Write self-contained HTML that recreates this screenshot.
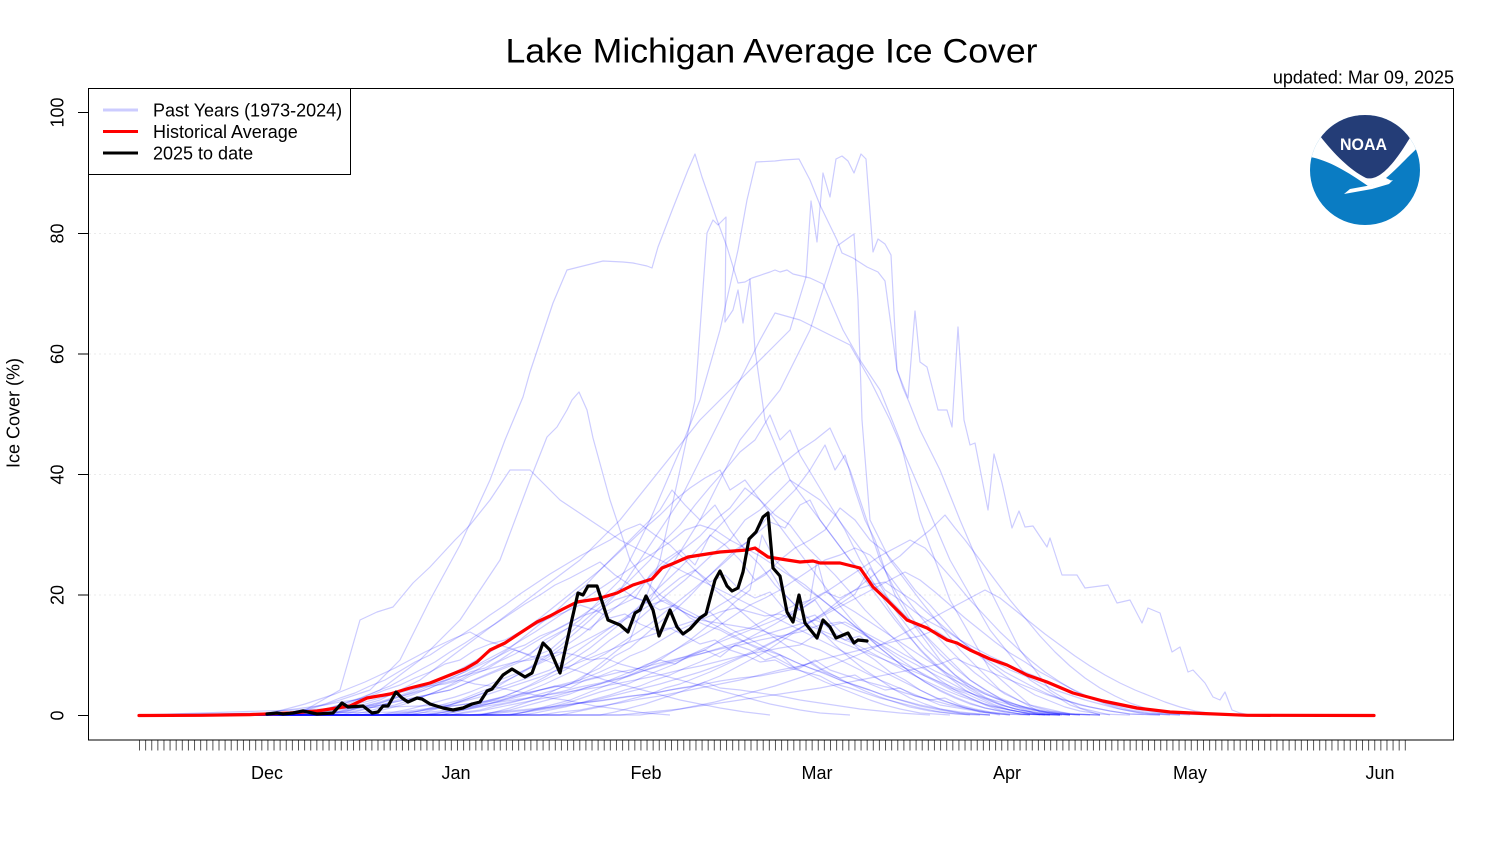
<!DOCTYPE html>
<html>
<head>
<meta charset="utf-8">
<style>
html,body{margin:0;padding:0;background:#fff;}
svg{display:block;}
text{font-family:"Liberation Sans",Arial,sans-serif;fill:#000;}
</style>
</head>
<body>
<svg width="1500" height="850" viewBox="0 0 1500 850" xmlns="http://www.w3.org/2000/svg">
<rect x="0" y="0" width="1500" height="850" fill="#fff"/>

<text x="771.5" y="62.5" font-size="34" text-anchor="middle" textLength="532" lengthAdjust="spacingAndGlyphs">Lake Michigan Average Ice Cover</text>
<text x="1454" y="83.5" font-size="18" text-anchor="end">updated: Mar 09, 2025</text>

<g stroke="#ebebeb" stroke-width="1" stroke-dasharray="2 3">
<line x1="89" y1="233.5" x2="1453" y2="233.5"/>
<line x1="89" y1="354" x2="1453" y2="354"/>
<line x1="89" y1="474.5" x2="1453" y2="474.5"/>
<line x1="89" y1="595" x2="1453" y2="595"/>
</g>

<g fill="none" stroke="rgba(0,0,255,0.2)" stroke-width="1.2" stroke-linejoin="round">
<polyline points="139,715 260,715 300,712 340,700 370,690 400,660 430,600 460,545 490,480 505,440 523,397 530,372 553,303 567,270 583,266 603,261 623,262 633,263 647,266 652,268 658,247 673,208 688,170 695,154 702,177 717,220 727,247 738,283 745,282 752,278 770,272 775,270 780,272 787,270 793,274 810,278 823,284 830,300 843,330 860,360 880,390 900,440 920,520 950,600 990,670 1030,705 1070,714 1100,715"/>
<polyline points="139,715 300,714 380,705 450,690 520,660 580,620 620,580 650,520 680,450 700,400 720,330 738,250 747,200 756,162 775,161 783,160 799,159 810,180 820,205 837,240 842,253 853,258 867,267 878,272 885,281 897,370 903,388 909,402 920,430 940,470 960,520 990,590 1020,650 1050,690 1080,708 1110,715"/>
<polyline points="139,715 330,714 380,700 420,680 460,650 500,620 540,590 580,560 620,520 660,470 700,420 740,380 770,350 790,330 799,300 806,277 811,201 817,242 823,173 830,197 836,159 842,156 848,161 854,173 861,154 866,159 873,252 878,239 885,244 891,255 897,370 908,398 915,311 920,362 927,367 938,410 947,410 952,427 958,327 964,420 970,445 975,443 988,510 994,454 1002,483 1012,528 1019,511 1025,527 1033,526 1047,547 1050,538 1062,575 1077,575 1085,588 1108,585 1117,603 1130,600 1142,623 1148,608 1160,613 1172,652 1180,647 1188,672 1193,670 1205,683 1213,697 1220,700 1225,692 1232,710 1240,713 1250,715"/>
<polyline points="139,715 350,712 450,690 550,650 620,590 680,500 720,420 760,340 775,313 800,320 830,335 850,345 870,380 890,420 920,490 950,560 990,630 1030,680 1070,705 1100,715"/>
<polyline points="139,715 400,712 500,700 580,680 630,640 660,560 680,470 695,400 700,330 707,233 713,220 718,225 726,217 725,322 733,310 738,290 743,323 750,279 755,350 765,420 790,480 820,520 850,560 890,600 930,640 970,680 1010,705 1040,715"/>
<polyline points="139,715 450,705 550,670 650,600 700,520 740,440 780,390 810,330 837,246 854,234 858,300 862,420 870,520 890,560 920,600 960,650 1000,690 1040,712 1070,715"/>
<polyline points="139,715 330,712 380,690 420,660 460,620 500,560 530,480 547,437 557,427 567,410 572,400 579,392 587,410 593,438 610,500 630,560 660,600 700,620 760,630 820,650 880,680 940,705 1000,715"/>
<polyline points="139,715 300,713 340,690 360,620 377,612 393,607 413,583 430,567 455,540 470,525 490,500 510,470 530,470 560,500 590,520 620,540 660,560 700,580 740,600 780,620 820,640 860,660 900,680 940,700 980,712 1010,715"/>
<polyline points="139,715 420,715 435,713 450,711 465,708 480,706 495,702 510,699 525,695 540,690 555,686 570,688 585,680 600,676 615,670 630,673 645,665 660,660 675,664 690,655 705,650 720,657 735,645 750,650 765,660 780,655 795,668 810,663 825,672 840,678 855,675 870,684 885,690 900,688 915,696 930,700 945,698 960,705 975,709 990,712 1010,714 1062,715"/>
<polyline points="139,715 320,715 335,712 350,710 365,706 380,703 395,698 410,694 425,690 440,684 455,680 470,672 485,668 500,660 515,650 530,655 545,640 560,632 575,625 590,630 605,612 620,605 635,598 650,602 665,590 680,578 695,570 710,582 725,575 740,590 755,598 770,592 785,610 800,620 815,615 830,630 845,640 860,636 875,650 890,658 905,665 920,672 935,680 950,688 965,693 980,700 995,706 1010,710 1030,714 1060,715"/>
<polyline points="139,715 450,715 465,712 480,710 495,706 510,703 525,699 540,694 555,690 570,684 585,678 600,672 615,665 630,656 645,650 660,641 675,632 690,625 705,615 720,605 735,596 750,584 765,575 780,560 795,548 810,540 825,530 840,508 855,520 870,540 885,552 900,570 915,590 930,605 945,622 960,640 975,652 990,665 1005,676 1020,686 1035,695 1050,701 1065,707 1080,711 1100,714 1130,715"/>
<polyline points="139,715 295,715 310,712 325,709 340,705 355,700 370,696 385,690 400,685 415,678 430,672 445,664 460,660 475,650 490,644 505,640 520,632 535,625 550,618 565,612 580,605 595,610 610,618 625,614 640,624 655,630 670,628 685,636 700,644 715,640 730,650 745,655 760,662 775,660 790,668 805,672 820,676 835,684 850,688 865,693 880,698 900,703 920,708 940,712 970,715"/>
<polyline points="139,715 430,715 445,712 460,709 475,705 490,700 505,696 520,690 535,684 550,677 565,670 580,660 595,652 610,640 625,630 640,618 655,605 670,592 685,580 700,566 715,552 730,540 745,520 760,510 775,495 790,480 805,490 820,500 835,515 850,535 865,555 880,585 895,610 910,630 925,648 940,662 955,675 970,685 985,694 1000,700 1015,706 1030,710 1050,713 1080,715"/>
<polyline points="139,715 510,715 525,712 540,709 555,706 570,702 585,697 600,692 615,688 630,683 645,676 660,670 675,664 690,656 705,650 720,640 735,632 750,628 765,620 780,612 795,605 810,600 825,592 840,598 855,590 870,585 885,582 900,592 915,602 930,615 945,628 960,640 975,652 990,662 1005,672 1020,680 1035,688 1050,695 1065,700 1080,705 1095,708 1110,711 1130,714 1160,715"/>
<polyline points="139,715 540,715 560,712 580,710 600,706 620,703 640,699 660,696 680,692 700,688 720,684 740,680 760,675 780,670 800,666 820,660 840,655 860,650 880,645 900,640 920,636 935,630 950,640 965,648 980,655 995,662 1010,670 1025,676 1040,683 1055,690 1070,695 1085,700 1100,704 1115,708 1130,711 1150,714 1180,715"/>
<polyline points="139,715 350,715 365,712 380,708 395,705 410,700 425,696 440,690 455,684 470,676 485,670 500,661 515,654 530,645 545,636 560,628 575,620 590,610 605,600 620,588 635,598 650,575 665,560 680,550 695,565 710,535 725,545 740,560 755,580 770,570 785,595 800,610 815,600 830,622 845,636 860,650 875,660 890,672 905,680 920,690 935,697 950,703 965,708 985,712 1010,715"/>
<polyline points="139,715 480,715 500,713 520,711 540,709 560,706 580,703 600,701 620,698 640,695 660,692 680,688 700,685 720,681 740,678 760,676 780,672 800,668 815,660 830,670 845,675 860,680 875,684 890,688 905,693 920,697 935,701 950,705 965,708 980,711 1000,714 1030,715"/>
<polyline points="139,715 480,715 495,712 510,710 525,706 540,702 555,698 570,694 585,688 600,684 615,678 630,672 645,666 660,658 675,650 690,642 705,634 720,625 735,615 750,605 765,598 780,590 795,580 810,570 825,560 840,555 855,548 870,555 885,570 900,590 915,610 930,628 945,645 960,660 975,673 990,684 1005,694 1020,701 1035,707 1050,711 1070,714 1100,715"/>
<polyline points="139,715 480,715 495,712 510,708 525,703 540,698 555,690 570,684 585,675 600,668 615,656 630,648 645,635 660,622 675,610 690,596 705,580 720,565 735,550 750,540 765,520 780,505 795,490 810,470 825,445 835,470 845,455 855,490 865,520 875,540 885,570 895,595 910,620 925,640 940,660 955,675 970,688 985,697 1000,704 1015,709 1035,713 1060,715"/>
<polyline points="139,715 330,715 345,712 360,708 375,705 390,700 405,695 420,690 435,684 450,678 465,672 480,665 495,658 510,650 525,645 540,636 555,630 570,622 585,615 600,610 615,600 630,595 645,602 660,610 675,605 690,618 705,625 720,630 735,638 750,644 765,650 780,655 795,662 810,668 825,673 840,680 855,685 870,690 885,696 900,700 920,706 940,710 965,714 990,715"/>
<polyline points="139,715 400,715 415,712 430,708 445,704 460,700 475,694 490,688 505,681 520,674 535,665 550,656 565,646 580,636 595,624 610,612 625,600 640,586 655,572 670,560 685,548 700,536 715,520 730,508 745,488 760,500 775,515 790,525 805,545 820,560 835,575 850,592 865,610 880,625 895,640 910,655 925,668 940,680 955,690 970,698 985,705 1000,710 1020,714 1050,715"/>
<polyline points="139,715 560,715 575,712 590,709 605,706 620,702 635,698 650,694 665,688 680,684 695,678 710,672 725,665 740,658 755,652 770,644 785,636 800,628 815,620 830,612 845,604 860,596 875,588 890,580 905,572 920,580 935,592 950,605 965,618 980,630 995,642 1010,653 1025,662 1040,672 1055,680 1070,688 1085,695 1100,701 1115,706 1130,710 1150,713 1180,715"/>
<polyline points="139,715 470,715 490,713 510,711 530,709 550,707 570,704 590,702 610,699 630,696 650,694 670,690 690,687 705,682 720,688 740,690 760,693 780,696 800,700 820,703 840,706 860,709 880,711 900,713 930,715"/>
<polyline points="139,715 280,715 295,712 310,708 325,704 340,698 355,693 370,686 385,680 400,671 415,662 430,655 445,645 460,636 475,626 490,615 505,605 520,594 535,584 550,574 565,565 580,556 595,548 610,540 625,530 640,524 655,535 670,545 685,560 700,575 715,590 730,602 745,615 760,628 775,638 790,648 805,658 820,668 835,676 850,684 865,691 880,697 895,702 910,707 930,711 955,714 980,715"/>
<polyline points="139,715 410,715 425,712 440,708 455,703 470,698 485,692 500,685 515,676 530,667 545,657 560,646 575,633 590,620 605,606 620,590 635,575 650,560 665,540 680,525 695,505 710,487 725,470 740,452 755,440 770,415 780,440 790,430 800,455 815,480 830,505 845,530 860,560 875,585 890,610 905,630 920,650 935,665 950,678 965,690 980,698 995,705 1010,710 1030,714 1060,715"/>
<polyline points="139,715 380,715 400,713 420,711 440,708 460,705 480,702 500,698 520,694 540,690 560,686 580,682 600,677 620,672 640,668 660,663 680,658 700,654 720,649 740,645 760,640 780,636 800,632 820,625 840,622 855,630 870,638 885,647 900,656 915,664 930,672 945,680 960,688 975,695 990,701 1005,706 1020,710 1040,713 1070,715"/>
<polyline points="139,715 300,715 315,712 330,708 345,703 360,698 375,692 390,686 405,678 420,670 435,662 450,652 465,643 480,633 495,624 510,614 525,604 540,595 555,585 570,578 585,570 600,562 615,575 630,585 645,580 660,595 675,605 690,612 705,620 720,628 735,636 750,645 765,652 780,660 795,668 810,675 825,682 840,688 855,694 870,700 885,705 900,709 920,713 950,715"/>
<polyline points="139,715 600,715 615,712 630,708 645,704 660,699 675,694 690,688 705,682 720,676 735,668 750,660 765,652 780,642 795,632 810,622 825,612 840,600 855,590 870,578 885,566 900,556 915,542 930,530 945,515 955,528 965,540 980,560 995,580 1010,600 1025,618 1040,636 1055,652 1070,666 1085,678 1100,688 1115,696 1130,703 1145,708 1160,712 1180,714 1210,715"/>
<polyline points="139,715 290,715 305,713 320,711 335,708 350,705 365,702 380,698 395,694 410,690 425,686 440,682 455,678 470,674 485,670 500,666 515,662 530,660 545,656 560,652 575,655 590,660 605,658 620,664 635,668 650,672 665,676 680,680 695,684 710,688 725,692 740,696 755,700 770,704 785,707 800,710 820,713 850,715"/>
<polyline points="139,715 360,715 375,712 390,708 405,704 420,698 435,692 450,685 465,677 480,668 495,658 510,648 525,636 540,624 555,612 570,598 585,586 600,570 615,555 630,540 645,525 660,510 672,490 685,505 700,520 715,505 730,530 745,550 760,565 775,585 790,600 805,615 820,630 835,645 850,658 865,670 880,680 895,690 910,698 925,704 940,709 960,713 990,715"/>
<polyline points="139,715 450,715 465,713 480,711 495,708 510,705 525,702 540,699 555,696 570,692 585,688 600,684 615,680 630,676 645,670 660,665 675,660 690,655 705,648 720,642 735,636 750,630 765,624 780,618 795,610 810,600 817,560 825,590 840,603 855,612 870,622 885,632 900,642 915,652 930,662 945,672 960,680 975,688 990,695 1005,701 1020,706 1040,711 1070,715"/>
<polyline points="139,715 510,715 525,712 540,708 555,704 570,700 585,694 600,688 615,682 630,675 645,668 660,660 675,650 690,640 705,628 720,616 735,602 750,590 762,535 775,560 790,575 805,585 820,598 835,610 850,622 865,635 880,648 895,660 910,672 925,682 940,691 955,698 970,704 985,708 1000,711 1020,714 1050,715"/>
<polyline points="139,715 420,715 440,713 460,710 480,707 500,704 520,700 540,696 560,692 580,687 600,683 620,678 640,672 660,666 680,660 700,654 720,648 740,642 760,636 780,630 800,624 815,620 830,626 845,622 860,630 875,638 890,646 905,655 920,663 935,671 950,678 965,685 980,692 995,698 1010,703 1025,707 1045,711 1075,714 1100,715"/>
<polyline points="139,715 380,715 395,712 410,709 425,705 440,701 455,697 470,692 485,686 500,680 515,674 530,668 545,661 560,654 575,646 590,638 605,630 620,622 635,614 650,605 665,600 680,610 695,618 710,612 725,626 740,634 755,642 770,650 785,657 800,664 815,670 830,676 845,682 860,687 875,692 890,697 905,701 920,705 940,709 960,712 990,715"/>
<polyline points="139,715 620,715 640,713 660,711 680,709 700,706 720,703 740,700 760,697 780,694 800,691 820,688 840,684 860,680 880,676 900,672 920,668 940,664 955,658 970,665 985,670 1000,676 1015,682 1030,688 1045,694 1060,699 1075,703 1090,707 1110,711 1130,714 1160,715"/>
<polyline points="139,715 500,715 520,713 540,710 560,707 580,703 600,699 620,694 640,689 660,684 680,678 700,672 720,665 740,657 760,648 780,638 800,628 820,616 840,604 855,594 870,568 885,590 900,600 915,612 930,622 945,630 960,640 975,648 990,656 1005,663 1020,670 1035,676 1050,683 1065,689 1080,695 1095,700 1110,704 1125,707 1140,710 1160,713 1190,715"/>
<polyline points="139,715 440,715 455,712 470,709 485,705 500,701 515,696 530,690 545,684 560,677 575,670 590,662 605,654 620,644 635,634 650,624 665,612 680,600 695,588 710,575 725,562 740,548 755,535 770,522 785,528 800,505 810,500 820,520 835,540 850,560 865,580 880,600 895,620 910,638 925,654 940,668 955,680 970,690 985,698 1000,705 1020,710 1045,714 1070,715"/>
<polyline points="139,715 250,715 265,713 280,711 295,709 310,707 325,705 340,702 355,700 370,697 385,694 400,691 415,688 430,686 445,684 460,680 475,684 490,686 505,689 520,692 535,695 550,698 565,700 580,703 595,706 610,708 625,710 645,713 670,715"/>
<polyline points="139,715 440,715 455,712 470,708 485,703 500,698 515,692 530,685 545,677 560,668 575,658 590,648 605,636 620,624 635,610 650,596 665,582 680,568 695,552 710,536 725,520 740,505 755,490 770,475 785,462 800,450 815,440 830,428 840,450 850,470 860,500 870,530 880,560 895,590 910,615 925,636 940,654 955,668 970,680 985,690 1000,698 1015,704 1030,709 1050,713 1080,715"/>
<polyline points="139,715 390,715 405,713 420,711 435,708 450,705 465,701 480,697 495,692 510,687 525,682 540,677 555,671 570,666 585,660 600,654 615,648 630,642 645,637 660,632 675,627 690,622 705,618 720,612 735,608 750,612 765,616 780,614 795,620 810,626 825,632 840,638 855,644 870,652 885,660 900,668 915,676 930,683 945,690 960,696 975,701 990,706 1010,710 1035,714 1060,715"/>
<polyline points="139,715 520,715 535,713 550,710 565,707 580,703 595,699 610,695 625,690 640,686 655,680 670,675 685,668 700,662 715,655 730,648 745,640 760,632 775,624 790,615 805,606 820,596 835,586 850,576 865,566 880,556 895,548 910,540 925,548 940,565 955,582 970,600 985,616 1000,632 1015,646 1030,660 1045,672 1060,682 1075,691 1090,698 1105,704 1120,709 1140,713 1170,715"/>
<polyline points="139,715 400,715 420,713 440,711 460,708 480,705 500,702 520,699 540,696 560,693 580,690 600,687 620,683 640,679 660,675 680,670 700,666 720,661 740,656 760,652 780,648 800,645 820,632 835,640 850,646 865,652 880,658 895,664 910,670 925,676 940,682 955,688 970,693 985,698 1000,702 1015,706 1035,710 1060,714 1090,715"/>
<polyline points="139,715 340,715 355,712 370,708 385,704 400,699 415,694 430,688 445,681 460,674 475,666 490,658 505,650 520,641 535,632 550,622 565,612 580,602 595,592 610,582 625,572 640,562 655,552 670,542 685,530 700,525 715,530 730,540 745,548 760,556 775,566 790,576 805,588 820,598 835,610 850,622 865,634 880,645 895,656 910,666 925,676 940,684 955,692 970,698 985,704 1000,708 1020,712 1045,715"/>
<polyline points="139,715 260,715 275,712 290,708 305,704 320,699 335,694 350,688 365,682 380,675 395,668 410,660 425,652 440,645 455,638 470,632 485,640 500,645 515,650 530,656 545,660 560,666 575,670 590,675 605,680 620,684 635,688 650,692 665,696 680,700 700,704 720,708 745,712 770,715"/>
<polyline points="139,715 640,715 655,713 670,711 685,708 700,705 715,702 730,698 745,694 760,690 775,686 790,681 805,676 820,670 835,664 850,658 865,652 880,645 895,638 910,630 925,622 940,614 955,606 970,598 985,590 1000,598 1015,610 1030,622 1045,634 1060,645 1075,656 1090,666 1105,675 1120,683 1135,690 1150,696 1165,702 1180,707 1195,711 1215,714 1240,715"/>
<polyline points="139,715 320,715 335,713 350,710 365,706 380,702 395,697 410,692 425,686 440,679 455,672 470,664 485,655 500,646 515,636 540,618 555,606 570,594 585,582 600,570 615,556 630,542 645,528 660,515 675,500 690,488 705,478 720,470 730,490 745,480 760,500 775,520 790,540 805,560 820,580 835,600 850,618 865,634 880,648 895,660 910,672 925,682 940,690 955,697 970,703 985,708 1005,712 1030,715"/>
</g>

<polyline fill="none" stroke="#ff0000" stroke-width="3.2" stroke-linejoin="round" stroke-linecap="round" points="139,715.5 200,715.3 250,714.6 290,713 317,711 350,706 367,698 390,694 410,688 430,683 450,675 465,669 477,662 490,650 505,643 517,635 537,622 550,616 563,609 577,602 597,599 617,593 633,585 652,579 662,568 672,564 688,557 707,554 720,552 747,550 755,548 768,557 787,560 800,562 813,561 820,563 840,563 860,568 873,587 887,600 907,620 927,628 947,640 957,643 970,650 990,659 1007,665 1027,675 1047,682 1073,693 1103,701 1137,708 1170,712 1203,713.5 1247,715.3 1374,715.5"/>

<polyline fill="none" stroke="#000" stroke-width="3.2" stroke-linejoin="round" stroke-linecap="round" points="267,714 277,713 283,714 293,713 303,711 317,714 333,713 342,703 348,707 363,706 372,713 378,712 383,706 388,706 396,692 402,698 408,702 417,698 422,699 430,704 443,708 453,710 463,708 472,704 480,702 487,691 492,689 503,675 512,669 525,677 532,673 543,643 550,650 560,673 570,628 578,593 583,595 588,586 597,586 608,620 620,625 628,632 635,613 640,610 646,596 653,610 659,636 670,610 677,627 683,634 690,629 700,618 706,614 715,580 720,571 727,586 732,591 738,588 743,572 749,539 756,532 763,517 768,513 773,568 780,576 787,612 793,622 799,595 805,623 817,638 823,620 830,627 836,638 848,633 854,643 858,640 867,641"/>

<rect x="88.5" y="88.5" width="1365" height="651.5" fill="none" stroke="#000" stroke-width="1"/>

<rect x="88.5" y="88.5" width="262" height="86" fill="#fff" stroke="#000" stroke-width="1"/>
<line x1="103" y1="110" x2="138" y2="110" stroke="#ccccff" stroke-width="3"/>
<line x1="103" y1="131.5" x2="138" y2="131.5" stroke="#ff0000" stroke-width="3"/>
<line x1="103" y1="153" x2="138" y2="153" stroke="#000" stroke-width="3"/>
<text x="153" y="116.5" font-size="18">Past Years (1973-2024)</text>
<text x="153" y="138" font-size="18">Historical Average</text>
<text x="153" y="159.5" font-size="18">2025 to date</text>

<g stroke="#000" stroke-width="1">
<line x1="78" y1="112.5" x2="88" y2="112.5"/>
<line x1="78" y1="233.5" x2="88" y2="233.5"/>
<line x1="78" y1="354" x2="88" y2="354"/>
<line x1="78" y1="474.5" x2="88" y2="474.5"/>
<line x1="78" y1="595" x2="88" y2="595"/>
<line x1="78" y1="715.5" x2="88" y2="715.5"/>
</g>
<g font-size="18">
<text transform="translate(63.5,112.5) rotate(-90)" text-anchor="middle">100</text>
<text transform="translate(63.5,233.5) rotate(-90)" text-anchor="middle">80</text>
<text transform="translate(63.5,354) rotate(-90)" text-anchor="middle">60</text>
<text transform="translate(63.5,474.5) rotate(-90)" text-anchor="middle">40</text>
<text transform="translate(63.5,595) rotate(-90)" text-anchor="middle">20</text>
<text transform="translate(63.5,715.5) rotate(-90)" text-anchor="middle">0</text>
<text transform="translate(19.5,413) rotate(-90)" text-anchor="middle">Ice Cover (%)</text>
</g>

<line x1="139" y1="745.5" x2="1406" y2="745.5" stroke="#555" stroke-width="10" stroke-dasharray="1 5.115"/>
<g font-size="18" text-anchor="middle">
<text x="267" y="779">Dec</text>
<text x="456" y="779">Jan</text>
<text x="646" y="779">Feb</text>
<text x="817" y="779">Mar</text>
<text x="1007" y="779">Apr</text>
<text x="1190" y="779">May</text>
<text x="1380" y="779">Jun</text>
</g>

<defs>
<clipPath id="lc"><circle cx="1365" cy="170" r="55"/></clipPath>
</defs>
<g clip-path="url(#lc)">
<rect x="1305" y="110" width="120" height="120" fill="#0a7cc3"/>
<path d="M1300,100 L1300,156 L1310,157 C1328,160 1348,172 1368,186 L1392,181 L1386,178 C1396,170 1408,156 1426,140 L1426,100 Z" fill="#fff"/>
<path d="M1300,100 L1300,134 L1320,136 C1334,154 1350,170 1366,178 C1378,181 1392,168 1411,136 L1430,132 L1430,100 Z" fill="#243d77"/>
<path d="M1344,194 L1350,189 L1372,185 L1393,180 L1389,184 L1372,189 Z" fill="#fff"/>
</g>
<text x="1363.5" y="150" font-size="17" font-weight="bold" text-anchor="middle" style="fill:#fff" textLength="47" lengthAdjust="spacingAndGlyphs">NOAA</text>
</svg>
</body>
</html>
